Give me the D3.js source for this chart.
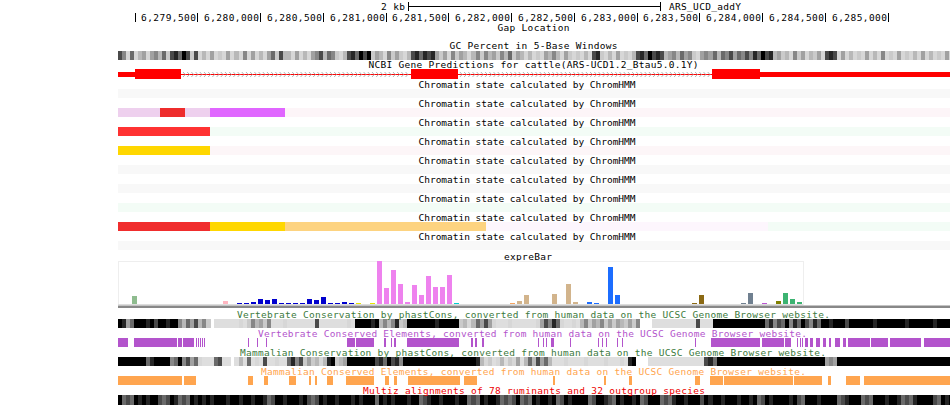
<!DOCTYPE html>
<html><head><meta charset="utf-8">
<script src="https://cdn.jsdelivr.net/npm/d3@7"></script>
<style>
html,body{margin:0;padding:0;background:#fff;}
svg{display:block;}
text{font-family:"DejaVu Sans Mono",monospace;font-size:9.5px;}
</style></head><body>
<svg id="c" width="950" height="405"></svg>
<script>
// ---------- data ----------
const viewStart = 6278868, viewEnd = 6285496;
const rulerTicks = [6279000,6279500,6280000,6280500,6281000,6281500,6282000,6282500,6283000,6283500,6284000,6284500,6285000];
const rulerLabels = ["","6,279,500","6,280,000","6,280,500","6,281,000","6,281,500","6,282,000","6,282,500","6,283,000","6,283,500","6,284,000","6,284,500","6,285,000"];
const scaleBarBp = 2000, scaleBarLabel = "2 kb", assemblyLabel = "ARS_UCD_addY";

const trackLabels = ["Gap Location","GC Percent in 5-Base Windows","NCBI Gene Predictions for cattle(ARS-UCD1.2_Btau5.0.1Y)"];
const chromLabel = "Chromatin state calculated by ChromHMM";
const exprLabel = "expreBar";
const consLabels = [
 "Vertebrate Conservation by phastCons, converted from human data on the UCSC Genome Browser website.",
 "Vertebrate Conserved Elements, converted from human data on the UCSC Genome Browser website.",
 "Mammalian Conservation by phastCons, converted from human data on the UCSC Genome Browser website.",
 "Mammalian Conserved Elements, converted from human data on the UCSC Genome Browser website.",
 "Multiz alignments of 78 ruminants and 32 outgroup species"];

// gray-level tracks: one digit (0 light .. 9 black) per 32-bp bin, '.' = no data
const binBp = 32;
const gcPercent = "75161" + "3414" + "5362" + "78697" + "27" + "13141214131514131" + "46273" + "3141314" + "57365" + "213" + "786979" + "24" + "315242" + "13" + "786878" + "424152431" + "3525342536243"
 + "131214" + "353142" + "12131" + "78" + "213141213" + "7869787" + "34" + "53645" + "214" + "5463657465" + "7586978" + "3423152413241" + "787" + "14131214131512141213141312141";
const vertCons = "98" + "46" + "99989799899" + "5364735" + "2" + "." + "00000010" + "253425" + "00010000000" + "7" + "000000010" + "999989" + "3535" + "8" + "23" + "9999999899999" + "2313" + "6474" + "10001000"
 + "0001" + "47586" + "10010" + "35243524" + "2432425" + "..." + "00000000000" + "7" + "000" + "9999999999999" + "68576958697586" + "99899979" + "9999989999999899999989999";
const mammCons = "9999999689999569" + "5746" + "1000" + "67" + "00" + "." + "030" + "6" + "010" + "7" + "00100" + "6857" + "242313" + "89" + "234" + "9999999" + "786978599" + "99999999999999998" + "31201302140"
 + "3637463" + "0001000010000100010" + "89" + "..." + "00000000000000" + "786" + "999999999999999999999999999" + "454" + "99999999999999999999999999999";
const multiz = "9676989899" + "7679867698" + "9898999899" + "8998998679" + "9899989767" + "9899899989" + "8999698989" + "9989967899" + "8999899676" + "9899867679"
 + "6769899896" + "7989999679" + "9876989989" + "6799967689" + "9899979899" + "8999899896" + "7989999897" + "6999899996" + "7899967699" + "9899867689" + "9997698999";

// NCBI gene model
const txStart = 6278700, txEnd = 6285600, cdsStart = 6279003, cdsEnd = 6283982;
const geneExons = [[6278700,6279370],[6281202,6281576],[6283600,6285600]];

// chromatin states [start, end, colour]
const chromRows = [
 [[6278800,6285600,"#f8f8f8"]],
 [[6278800,6279200,"#eed0ee"],[6279200,6279400,"#ee2c2c"],[6279400,6279600,"#eed0ee"],[6279600,6280200,"#e066ff"],[6280200,6285600,"#fdf5f8"]],
 [[6278800,6279600,"#ff3232"],[6279600,6285600,"#f3fcf6"]],
 [[6278800,6279600,"#ffd700"],[6279600,6285600,"#fdf6f8"]],
 [[6278800,6285600,"#f8f8f8"]],
 [[6278800,6285600,"#f8f8f8"]],
 [[6278800,6285600,"#f3fcf6"]],
 [[6278800,6279600,"#f02d2d"],[6279600,6280200,"#ffd700"],[6280200,6281800,"#fdd380"],[6281800,6284050,"#fdf6fd"],[6284050,6285600,"#f3fcf6"]],
 [[6278800,6285600,"#f8f8f8"]]
];

// expression bars (98 samples)
const exprValues = [0,0,8,0,0,0,0,0,0,0, 0,0,0,0,0,3,0,1,1,2, 5,4,5,1,1,1,1.5,5,4,7, 1.5,1,2,1,1,0,1,43,16,34,
 20,2,19,9,28,17,17,29,1,0, 0,0,0,0,0,0,1,3,9,0, 0,0,10,0,20,2,0,2,1.3,0, 37,9,0,0,0,0,0,0,0,0,
 0,0,1,9,0,0,0,0,0,1, 11,0,1.5,0,3,11,5,2.5];
const exprGroups = [[0,14,"#8fbc8f"],[15,16,"#ffb6c1"],[17,33,"#0000cd"],[34,36,"#e6e600"],[37,47,"#ee82ee"],[48,55,"#00ced1"],[56,56,"#f4a460"],[57,66,"#d2b48c"],[67,81,"#1c6dff"],[82,88,"#8b6914"],[89,91,"#708090"],[92,93,"#ba55d3"],[94,94,"#808000"],[95,97,"#3cb371"]];
const exprMax = 43;

// conserved elements [start, end]
const vertElements = [[6278800,6278948],[6278995,6279338],[6279346,6279378],[6279386,6279473],[6279489,6279497],[6279505,6279513],[6279521,6279529],[6279537,6279545],[6279553,6279561],
 [6279904,6279913],[6279975,6279984],[6280047,6280056],[6280692,6280756],[6280764,6280907],[6280987,6281003],[6281043,6281051],[6281067,6281083],[6281170,6281584],
 [6281680,6281696],[6281712,6281728],[6281768,6281784],[6282214,6282222],[6282254,6282262],[6282277,6282285],[6282317,6282341],[6282469,6282477],
 [6282692,6282700],[6282724,6282732],[6282755,6282763],[6282843,6282851],[6282883,6282891],[6283464,6283472],[6283592,6283982],[6283998,6284173],[6284181,6284229],
 [6284277,6284285],[6284301,6284309],[6284317,6284325],[6284341,6284365],[6284380,6284404],[6284428,6284460],[6284484,6284508],[6284532,6284548],[6284580,6284619],
 [6284643,6284667],[6284683,6284858],[6284866,6285002],[6285018,6285265],[6285289,6285600]];
const mammElements = [[6278800,6279378],[6279394,6279489],[6279904,6279943],[6280031,6280063],[6280230,6280286],[6280390,6280406],[6280437,6280453],[6280533,6280581],
 [6280684,6280907],[6280995,6281027],[6281067,6281091],[6281178,6281592],[6281624,6281728],[6282333,6282349],[6282739,6282755],[6282939,6282963],[6283464,6283504],
 [6283584,6283687],[6283695,6284245],[6284253,6284476],[6284524,6284548],[6284667,6284779],[6284811,6285600]];

// ---------- drawing ----------
const svg = d3.select("#c");
const L = 118, R = 950;
const x = d3.scaleLinear().domain([viewStart, viewEnd]).range([L, R]);

svg.append("defs").append("clipPath").attr("id","clip")
  .append("rect").attr("x",L).attr("y",0).attr("width",R-L).attr("height",405);
const g = svg.append("g").attr("clip-path","url(#clip)").attr("shape-rendering","crispEdges");

function label(t, px, cy, color, width, anchor){
  const el = svg.append("text").attr("x",px).attr("y",cy+3.5).attr("text-anchor",anchor||"start")
    .attr("fill",color||"#000").text(t);
  if (width) el.attr("textLength",width).attr("lengthAdjust","spacing");
}

// scale bar
const mid = (viewStart+viewEnd)/2;
const sb0 = x(mid - scaleBarBp/2), sb1 = x(mid + scaleBarBp/2);
const sbg = svg.append("g").attr("stroke","#000").attr("shape-rendering","crispEdges");
sbg.append("line").attr("x1",Math.round(sb0)+0.5).attr("x2",Math.round(sb1)+0.5).attr("y1",6.5).attr("y2",6.5);
sbg.append("line").attr("x1",Math.round(sb0)+0.5).attr("x2",Math.round(sb0)+0.5).attr("y1",2).attr("y2",11);
sbg.append("line").attr("x1",Math.round(sb1)+0.5).attr("x2",Math.round(sb1)+0.5).attr("y1",2).attr("y2",11);
label(scaleBarLabel, sb0-3.5, 6, "#000", 24, "end");
label(assemblyLabel, sb1+9.5, 6, "#000", 72, "start");

// ruler
rulerTicks.forEach((t,i)=>{
  const px = Math.round(x(t))+0.5;
  svg.append("line").attr("x1",px).attr("x2",px).attr("y1",13).attr("y2",22).attr("stroke","#000").attr("shape-rendering","crispEdges");
  if (rulerLabels[i]) label(rulerLabels[i], px-1.5, 17, "#000", 55, "end");
});

label(trackLabels[0], 497.5, 27, "#000", 72);
label(trackLabels[1], 449.5, 45, "#000", 168);
label(trackLabels[2], 368.5, 64, "#000", 330);

// gray-level tracks
function grayOf(c){ const v = Math.round(222*(1-Math.pow((+c)/9,1.6))); return d3.rgb(v,v,v); }
function grayTrack(str, y0, h){
  const data = str.split("").map((c,i)=>({i, c}));
  g.append("g").selectAll("rect").data(data.filter(d=>d.c!=="."))
    .join("rect")
    .attr("x", d=>x(viewStart + d.i*binBp))
    .attr("width", d=>x(viewStart+(d.i+1)*binBp)-x(viewStart+d.i*binBp)+0.3)
    .attr("y", y0).attr("height", h)
    .attr("fill", d=>grayOf(d.c));
}
grayTrack(gcPercent, 51, 9);

// gene
const gy = 74.5;
g.append("line").attr("x1",x(txStart)).attr("x2",x(txEnd)).attr("y1",gy).attr("y2",gy).attr("stroke","#ff0000").attr("stroke-width",1);
for (let k=0;k<geneExons.length-1;k++){
  const a = x(geneExons[k][1]), b = x(geneExons[k+1][0]);
  const chevs = d3.range(a+3, b-2, 4.2);
  g.append("g").selectAll("path").data(chevs).join("path")
    .attr("d", d=>`M${d-1},${gy-2.5}L${d+1.2},${gy}L${d-1},${gy+2.5}`)
    .attr("fill","none").attr("stroke","#aaaaaa").attr("stroke-width",0.9).attr("shape-rendering","auto");
}
geneExons.forEach(e=>{
  g.append("rect").attr("x",x(e[0])).attr("width",x(e[1])-x(e[0])).attr("y",72).attr("height",5).attr("fill","#ff0000");
  const s = Math.max(e[0],cdsStart), en = Math.min(e[1],cdsEnd);
  if (en > s) g.append("rect").attr("x",x(s)).attr("width",x(en)-x(s)).attr("y",69).attr("height",10).attr("fill","#ff0000");
});

// chromatin rows
chromRows.forEach((row,i)=>{
  label(chromLabel, 418.5, 84+19*i, "#000", 217);
  g.append("g").selectAll("rect").data(row).join("rect")
    .attr("x", d=>x(d[0])).attr("width", d=>x(d[1])-x(d[0]))
    .attr("y", 89+19*i).attr("height", 9).attr("fill", d=>d[2]);
});

// expreBar
label(exprLabel, 504, 256, "#000", 48);
const xb = d3.scaleBand().domain(d3.range(exprValues.length)).range([L, 802]).paddingInner(2/7).paddingOuter(0);
const yb = d3.scaleLinear().domain([0, exprMax]).range([304, 261]);
const colorOf = i => { const gr = exprGroups.find(q=>i>=q[0]&&i<=q[1]); return gr?gr[2]:"#888"; };
svg.append("rect").attr("x",L+0.5).attr("y",261.5).attr("width",685).attr("height",43).attr("fill","none").attr("stroke","#eeeeee").attr("shape-rendering","crispEdges");
svg.append("g").attr("shape-rendering","crispEdges").selectAll("rect").data(exprValues.map((v,i)=>({v,i})).filter(d=>d.v>0)).join("rect")
  .attr("x", d=>xb(d.i)).attr("width", xb.bandwidth())
  .attr("y", d=>yb(d.v)).attr("height", d=>Math.max(1, 304-yb(d.v)))
  .attr("fill", d=>colorOf(d.i));
svg.append("line").attr("x1",L).attr("x2",803).attr("y1",304.5).attr("y2",304.5).attr("stroke","#dddddd").attr("shape-rendering","crispEdges");
svg.append("rect").attr("x",L).attr("y",305.5).attr("width",R-L).attr("height",2.5).attr("fill","#888888");

// conservation tracks
const green = "#3c7a3c", purple = "#b354cc", orange = "#ffa54f", red = "#ee0000";
label(consLabels[0], 237, 314, green, 593);
grayTrack(vertCons, 319, 9);
label(consLabels[1], 258, 333, purple, 549);
g.append("g").selectAll("rect").data(vertElements).join("rect")
  .attr("x", d=>x(d[0])).attr("width", d=>Math.max(1, x(d[1])-x(d[0])))
  .attr("y", 338).attr("height", 9).attr("fill", purple);
label(consLabels[2], 240, 352, green, 586);
grayTrack(mammCons, 357, 9);
label(consLabels[3], 261, 371, orange, 545);
g.append("g").selectAll("rect").data(mammElements).join("rect")
  .attr("x", d=>x(d[0])).attr("width", d=>Math.max(1, x(d[1])-x(d[0])))
  .attr("y", 376).attr("height", 9).attr("fill", orange);
label(consLabels[4], 363, 390, red, 342);
grayTrack(multiz, 395, 10);
</script>
</body></html>
